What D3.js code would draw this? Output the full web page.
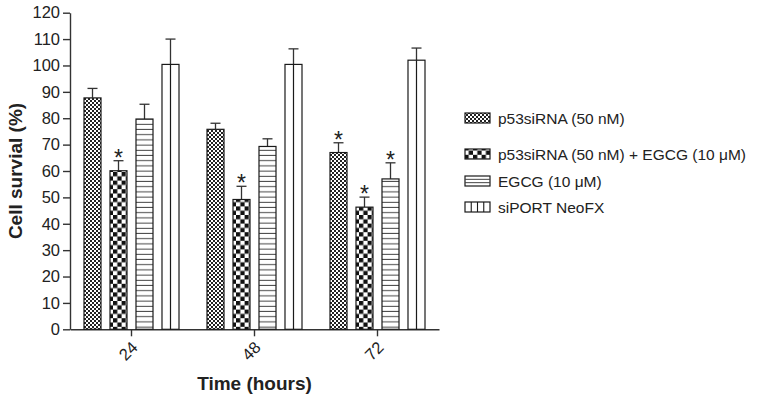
<!DOCTYPE html>
<html>
<head>
<meta charset="utf-8">
<script src="https://cdn.jsdelivr.net/npm/d3@7"></script>
<style>
  html, body { margin: 0; padding: 0; background: #fff; }
  svg { display: block; font-family: "Liberation Sans", Arial, sans-serif; }
</style>
</head>
<body>
<svg id="chart" width="758" height="402"></svg>
<script>
const categories = ["24", "48", "72"];
const seriesNames = ["p53siRNA (50 nM)", "p53siRNA (50 nM) + EGCG (10 \u03bcM)", "EGCG (10 \u03bcM)", "siPORT NeoFX"];
const p53Values = [87.7, 75.8, 67.0];
const p53Errors = [3.6, 2.3, 3.7];
const comboValues = [60.1, 49.2, 46.3];
const comboErrors = [3.8, 5.0, 3.8];
const egcgValues = [79.7, 69.3, 57.0];
const egcgErrors = [5.6, 2.9, 6.1];
const siportValues = [100.4, 100.4, 102.0];
const siportErrors = [9.6, 5.9, 4.6];
const p53Significant = [false, false, true];
const comboSignificant = [true, true, true];
const egcgSignificant = [false, false, true];
const siportSignificant = [false, false, false];
const yTicks = [0, 10, 20, 30, 40, 50, 60, 70, 80, 90, 100, 110, 120];

const seriesData = [
  { name: seriesNames[0], values: p53Values, errors: p53Errors, sig: p53Significant, fill: "url(#fineCheck)" },
  { name: seriesNames[1], values: comboValues, errors: comboErrors, sig: comboSignificant, fill: "url(#bigCheck)" },
  { name: seriesNames[2], values: egcgValues, errors: egcgErrors, sig: egcgSignificant, fill: "url(#hLines)" },
  { name: seriesNames[3], values: siportValues, errors: siportErrors, sig: siportSignificant, fill: "#fff" }
];

const svg = d3.select("#chart");
const ink = "#1a1a1a";
const axisColor = "#333";

// Patterns
const defs = svg.append("defs");
const fine = defs.append("pattern").attr("id", "fineCheck").attr("patternUnits", "userSpaceOnUse")
  .attr("width", 4).attr("height", 4);
fine.append("rect").attr("width", 4).attr("height", 4).attr("fill", "#fff");
fine.append("rect").attr("width", 2).attr("height", 2).attr("fill", "#222");
fine.append("rect").attr("x", 2).attr("y", 2).attr("width", 2).attr("height", 2).attr("fill", "#222");

const big = defs.append("pattern").attr("id", "bigCheck").attr("patternUnits", "userSpaceOnUse")
  .attr("width", 8.6).attr("height", 8.6);
big.append("rect").attr("width", 8.6).attr("height", 8.6).attr("fill", "#fff");
big.append("rect").attr("width", 4.3).attr("height", 4.3).attr("fill", "#111");
big.append("rect").attr("x", 4.3).attr("y", 4.3).attr("width", 4.3).attr("height", 4.3).attr("fill", "#111");

const hp = defs.append("pattern").attr("id", "hLines").attr("patternUnits", "userSpaceOnUse")
  .attr("width", 10).attr("height", 5.2);
hp.append("rect").attr("width", 10).attr("height", 5.2).attr("fill", "#fff");
hp.append("line").attr("x1", 0).attr("x2", 10).attr("y1", 4.7).attr("y2", 4.7)
  .attr("stroke", "#444").attr("stroke-width", 1);

// Scales
const x0 = d3.scaleBand().domain(categories).range([70, 439]).padding(0);
const x1 = d3.scaleBand().domain(d3.range(seriesData.length)).range([14, x0.bandwidth() - 14])
  .paddingInner(0.346).paddingOuter(0);
const y = d3.scaleLinear().domain([0, 120]).range([329.3, 12.7]);

// Y axis
const yAxis = svg.append("g").attr("transform", "translate(70,0)")
  .call(d3.axisLeft(y).tickValues(yTicks).tickSize(7).tickPadding(3).tickSizeOuter(0));
yAxis.select(".domain").attr("stroke", axisColor).attr("stroke-width", 1.4);
yAxis.selectAll(".tick line").attr("stroke", axisColor).attr("stroke-width", 1.4);
yAxis.selectAll(".tick text").attr("font-size", 16.5).attr("fill", "#222")
  .attr("font-family", "Liberation Sans, Arial, sans-serif");

// X axis
const xAxis = svg.append("g").attr("transform", `translate(0,${y(0)})`)
  .call(d3.axisBottom(x0).tickSize(7).tickSizeOuter(0));
xAxis.select(".domain").attr("stroke", axisColor).attr("stroke-width", 1.4);
xAxis.selectAll(".tick line").attr("stroke", axisColor).attr("stroke-width", 1.4);
xAxis.selectAll(".tick text")
  .attr("font-size", 16.5).attr("fill", "#222")
  .attr("font-family", "Liberation Sans, Arial, sans-serif")
  .attr("text-anchor", "end")
  .attr("dominant-baseline", "central")
  .attr("y", 0).attr("dy", null)
  .attr("transform", "translate(3,15) rotate(-45)");

// Bars
const groups = svg.append("g").selectAll("g").data(categories).join("g")
  .attr("transform", d => `translate(${x0(d)},0)`);

groups.each(function (cat, ci) {
  const g = d3.select(this);
  seriesData.forEach((s, si) => {
    const bx = x1(si), bw = x1.bandwidth();
    const v = s.values[ci], e = s.errors[ci];
    g.append("line").attr("x1", bx + bw / 2).attr("x2", bx + bw / 2)
      .attr("y1", y(v)).attr("y2", y(v + e)).attr("stroke", "#333").attr("stroke-width", 1.3);
    g.append("line").attr("x1", bx + bw / 2 - 5).attr("x2", bx + bw / 2 + 5)
      .attr("y1", y(v + e)).attr("y2", y(v + e)).attr("stroke", "#333").attr("stroke-width", 1.3);
    g.append("rect").attr("x", bx).attr("y", y(v)).attr("width", bw).attr("height", y(0) - y(v))
      .attr("fill", s.fill).attr("stroke", ink).attr("stroke-width", 1.2);
    if (si === 3) {
      g.append("line").attr("x1", bx + bw / 2).attr("x2", bx + bw / 2)
        .attr("y1", y(v)).attr("y2", y(0)).attr("stroke", ink).attr("stroke-width", 1.2);
    }
    if (s.sig[ci]) {
      g.append("text").attr("x", bx + bw / 2).attr("y", y(v + e) + 5)
        .attr("text-anchor", "middle").attr("font-size", 23).attr("fill", "#222").text("*");
    }
  });
});

// Axis titles
svg.append("text").attr("transform", `translate(22,${(y(0) + y(120)) / 2}) rotate(-90)`)
  .attr("text-anchor", "middle").attr("font-size", 19).attr("font-weight", "bold").attr("fill", "#222")
  .text("Cell survial (%)");
svg.append("text").attr("x", (70 + 439) / 2).attr("y", 390)
  .attr("text-anchor", "middle").attr("font-size", 19).attr("font-weight", "bold").attr("fill", "#222")
  .text("Time (hours)");

// Legend
const legendY = [118, 154, 181, 207];
const legend = svg.append("g");
seriesData.forEach((s, i) => {
  const ly = legendY[i];
  const sw = 25, sh = 10, sx = 465;
  legend.append("rect").attr("x", sx).attr("y", ly - sh / 2).attr("width", sw).attr("height", sh)
    .attr("fill", i === 2 ? "#fff" : s.fill).attr("stroke", ink).attr("stroke-width", 1.2);
  if (i === 2) {
    [1, 2].forEach(k => legend.append("line").attr("x1", sx).attr("x2", sx + sw)
      .attr("y1", ly - sh / 2 + k * sh / 3).attr("y2", ly - sh / 2 + k * sh / 3)
      .attr("stroke", "#444").attr("stroke-width", 1));
  }
  if (i === 3) {
    [1, 2, 3].forEach(k => legend.append("line").attr("x1", sx + k * sw / 4).attr("x2", sx + k * sw / 4)
      .attr("y1", ly - sh / 2).attr("y2", ly + sh / 2)
      .attr("stroke", ink).attr("stroke-width", 1.1));
  }
  legend.append("text").attr("x", 498).attr("y", ly).attr("dominant-baseline", "central")
    .attr("font-size", 15.5).attr("fill", "#222").text(s.name);
});
</script>
</body>
</html>
